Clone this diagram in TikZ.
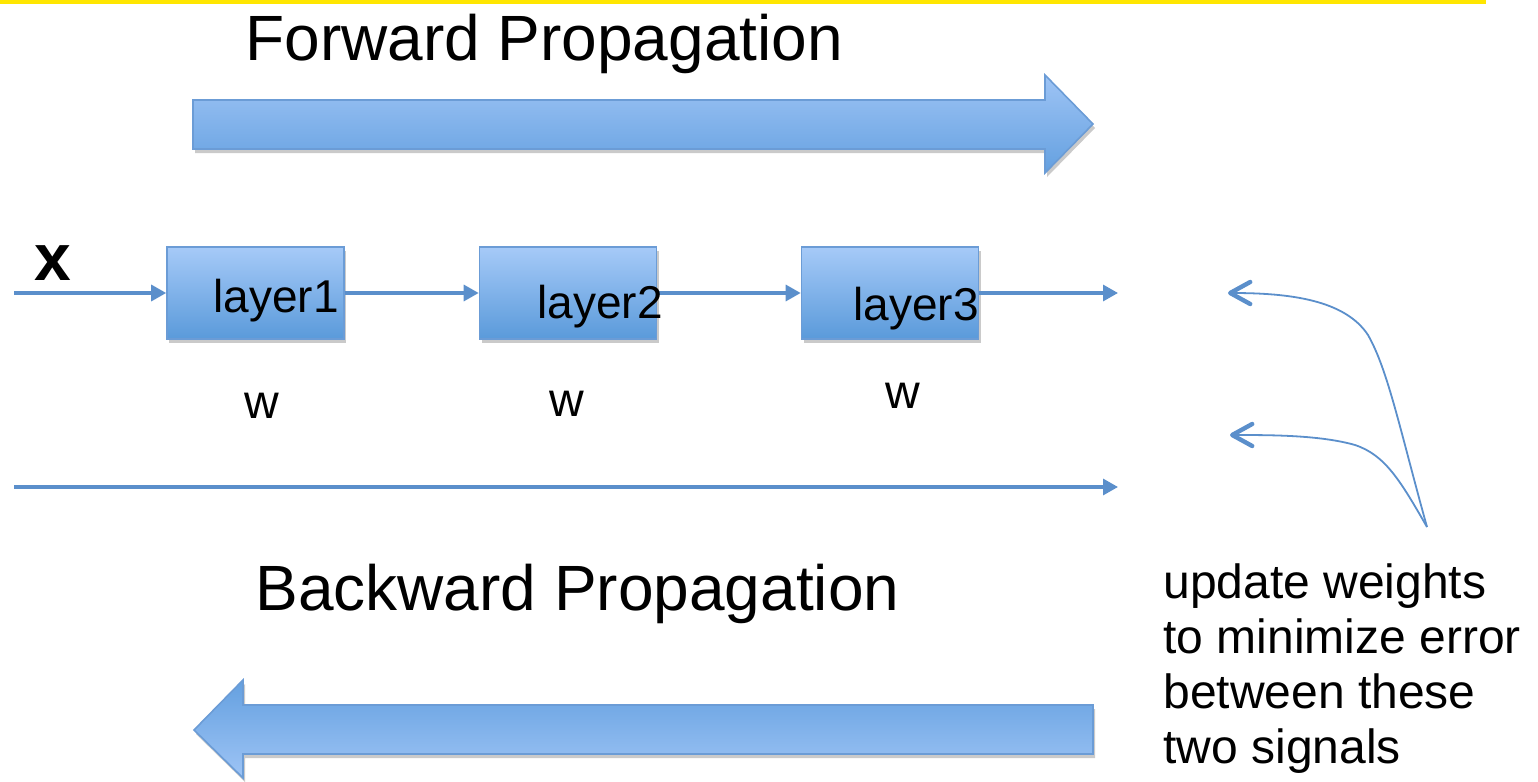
\documentclass[tikz,border=0pt]{standalone}
\usepackage{fontspec}
\setmainfont{Liberation Sans}
\usetikzlibrary{arrows.meta,shadows,calc}
\definecolor{accent}{HTML}{5B8FCB}
\definecolor{bandyellow}{HTML}{FFE600}
\definecolor{boxtop}{HTML}{A6CAF8}
\definecolor{boxbot}{HTML}{5A9ADA}
\definecolor{boxborder}{HTML}{6B9CD6}
\definecolor{bigtop}{HTML}{9EC4F5}
\definecolor{bigbot}{HTML}{64A0E0}
\tikzset{
  softshadow/.style={drop shadow={shadow xshift=1pt,shadow yshift=-2pt,opacity=0.35,fill=black!60}},
  layerbox/.style={draw=boxborder,line width=0.8pt,top color=boxtop,bottom color=boxbot,
    minimum width=88.5pt,minimum height=46pt,inner sep=0pt,softshadow},
  bigarrow/.style={draw=boxborder,line width=0.8pt,softshadow},
  layertext/.style={font=\fontsize{23}{27}\selectfont,anchor=base west,inner sep=0pt},
  wlabel/.style={font=\fontsize{24}{28}\selectfont,anchor=base,inner sep=0pt},
  bigtitle/.style={font=\fontsize{32}{38}\selectfont,anchor=base west,inner sep=0pt},
  conn/.style={draw=accent,line width=1.6pt,-{Triangle[length=7.5pt,width=8pt]}},
  feedback/.style={draw=accent,line width=0.9pt,-{Straight Barb[length=10pt,width=11pt,line width=2.2pt,round]}},
}
\begin{document}
\begin{tikzpicture}[x=0.5pt,y=-0.5pt]
\useasboundingbox (0,0) rectangle (1538,782);
% yellow band at top
\fill[bandyellow] (0,0) rectangle (1486,4);

% titles
\node[bigtitle] (fwdlabel) at (245,60) {Forward Propagation};
\node[bigtitle] (bwdlabel) at (255,610) {Backward Propagation};

% big block arrows
\filldraw[bigarrow,top color=bigtop,bottom color=bigbot]
  (193,100) -- (1045,100) -- (1045,75) -- (1093,124) -- (1045,173) -- (1045,149) -- (193,149) -- cycle;
\filldraw[bigarrow,top color=bigbot,bottom color=bigtop]
  (1093,705) -- (243,705) -- (243,680) -- (194,730) -- (243,778) -- (243,754) -- (1093,754) -- cycle;

% layer boxes
\node[layerbox] (l1) at (255.5,293) {};
\node[layerbox] (l2) at (568,293) {};
\node[layerbox] (l3) at (890,293) {};

% connectors
\coordinate (xin) at (14,293);
\coordinate (yout) at (1118,293);
\draw[conn] (xin) -- (l1.west);
\draw[conn] (l1.east) -- (l2.west);
\draw[conn] (l2.east) -- (l3.west);
\draw[conn] (l3.east) -- (yout);

\coordinate (bin) at (14,487);
\coordinate (bout) at (1118,487);
\draw[conn] (bin) -- (bout);

% layer texts
\node[layertext] (t1) at (213,312) {layer1};
\node[layertext] (t2) at (537,318) {layer2};
\node[layertext] (t3) at (853,320) {layer3};

% input label
\node[font=\fontsize{33}{36}\selectfont\bfseries,anchor=base west,inner sep=0pt] (xlab) at (34,280) {x};

% weight labels
\node[wlabel] (w1) at (262,418) {w};
\node[wlabel] (w2) at (567,416) {w};
\node[wlabel] (w3) at (903,408) {w};

% feedback arrows
\coordinate (src) at (1427,527);
\coordinate (tgtA) at (1228,293);
\coordinate (tgtB) at (1230,435);
\draw[feedback] (src) .. controls (1400,430) and (1388,370) .. (1368,335)
  .. controls (1345,300) and (1290,293) .. (tgtA);
\draw[feedback] (src) .. controls (1400,480) and (1385,455) .. (1355,445)
  .. controls (1320,435) and (1270,435) .. (tgtB);

% note
\node[font=\fontsize{24}{27.5}\selectfont,align=left,anchor=north west,inner sep=0pt] (note) at (1163,563)
  {update weights\\to minimize error\\between these\\two signals};
\end{tikzpicture}
\end{document}
